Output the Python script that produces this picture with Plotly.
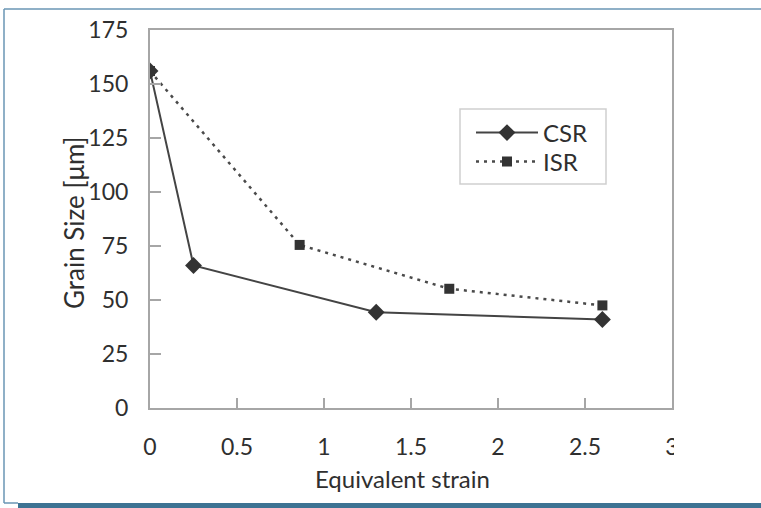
import plotly.graph_objects as go

# ---- data ----
csr_strain = [0, 0.25, 1.3, 2.6]
csr_size = [156, 66, 44.3, 41]
isr_strain = [0, 0.86, 1.72, 2.6]
isr_size = [156, 75.5, 55.2, 47.5]
x_ticks = [0, 0.5, 1, 1.5, 2, 2.5, 3]
x_tick_labels = ["0", "0.5", "1", "1.5", "2", "2.5", "3"]
y_ticks = [0, 25, 50, 75, 100, 125, 150, 175]
y_tick_labels = ["0", "25", "50", "75", "100", "125", "150", "175"]

W, H = 761, 508
L, R, T, B = 150, 672, 30, 408  # plot area pixels
FONT = "Lato"
TXT = "#2f2f2f"
AX = "#a6a6a6"


def px(x):
    return (x - L) / (R - L)


def py(y):
    return (B - y) / (B - T)


fig = go.Figure()
fig.add_trace(go.Scatter(
    x=isr_strain, y=isr_size, name="ISR", mode="lines+markers",
    line=dict(color="#4a4a4a", width=2.5, dash="3px,5px"),
    marker=dict(symbol="square", size=10, color="#333333"),
    legend="legend2",
))
fig.add_trace(go.Scatter(
    x=csr_strain, y=csr_size, name="CSR", mode="lines+markers",
    line=dict(color="#444444", width=2),
    marker=dict(symbol="diamond", size=13, color="#333333"),
    legend="legend",
))

leg_common = dict(
    xanchor="left", yanchor="middle", borderwidth=0,
    bgcolor="rgba(0,0,0,0)", font=dict(size=24, color=TXT), itemwidth=62,
)

fig.update_layout(
    width=W, height=H,
    margin=dict(l=L, r=W - R, t=T, b=H - B),
    paper_bgcolor="white", plot_bgcolor="white",
    font=dict(family=FONT, color=TXT),
    showlegend=True,
    legend=dict(x=px(471), y=py(133), **leg_common),
    legend2=dict(x=px(471), y=py(162), **leg_common),
    xaxis=dict(
        range=[0, 3], tickvals=x_ticks, ticktext=x_tick_labels,
        ticks="inside", ticklen=10, tickwidth=2, tickcolor=AX,
        showline=True, linecolor=AX, linewidth=2, mirror=True,
        showgrid=False, zeroline=False,
        tickfont=dict(size=23, color=TXT), ticklabelstandoff=17,
    ),
    yaxis=dict(
        range=[0, 175], tickvals=y_ticks, ticktext=y_tick_labels,
        ticks="inside", ticklen=11, tickwidth=2, tickcolor=AX,
        showline=True, linecolor=AX, linewidth=2, mirror=True,
        showgrid=False, zeroline=False,
        tickfont=dict(size=23, color=TXT), ticklabelstandoff=15,
    ),
    annotations=[
        dict(text="Equivalent strain", xref="paper", yref="paper",
             x=px(402), y=py(478), showarrow=False,
             font=dict(size=24, color=TXT), xanchor="center", yanchor="middle"),
        dict(text="Grain Size [μm]", xref="paper", yref="paper",
             x=px(74), y=py(223), showarrow=False, textangle=-90,
             font=dict(size=26, color=TXT), xanchor="center", yanchor="middle"),
    ],
    shapes=[
        # legend box
        dict(type="rect", xref="paper", yref="paper", layer="below",
             x0=px(460), x1=px(606), y0=py(109), y1=py(184),
             fillcolor="white", line=dict(color="#cfcfcf", width=1.5)),
        # clip the "3" tick label like the reference
        dict(type="rect", xref="paper", yref="paper", layer="above",
             x0=px(674), x1=px(740), y0=py(430), y1=py(465),
             fillcolor="white", line=dict(width=0)),
        # frame
        dict(type="line", xref="paper", yref="paper", layer="above",
             x0=px(4), x1=px(761), y0=py(9), y1=py(9),
             line=dict(color="#6a96b4", width=1.5)),
        dict(type="line", xref="paper", yref="paper", layer="above",
             x0=px(4), x1=px(4), y0=py(9), y1=py(503),
             line=dict(color="#6a96b4", width=1.5)),
        dict(type="line", xref="paper", yref="paper", layer="above",
             x0=px(4), x1=px(18), y0=py(503), y1=py(503),
             line=dict(color="#6a96b4", width=1.5)),
        dict(type="rect", xref="paper", yref="paper", layer="above",
             x0=px(18), x1=px(761), y0=py(503), y1=py(508),
             fillcolor="#3d7393", line=dict(width=0)),
    ],
)

fig.write_html("out.html")
